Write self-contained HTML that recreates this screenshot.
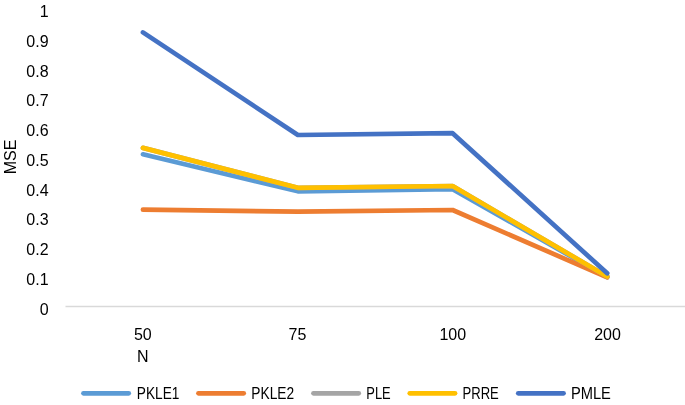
<!DOCTYPE html>
<html><head><meta charset="utf-8"><style>
html,body{margin:0;padding:0;background:#fff;}
svg{display:block;will-change:transform;}
text{font-family:"Liberation Sans", sans-serif;font-size:16px;fill:#000;}
</style></head><body>
<svg width="685" height="405" viewBox="0 0 685 405">
<line x1="65.5" y1="306.5" x2="685" y2="306.5" stroke="#D9D9D9" stroke-width="1.3"/>
<text x="48.6" y="314.80" text-anchor="end">0</text>
<text x="48.6" y="285.02" text-anchor="end">0.1</text>
<text x="48.6" y="255.24" text-anchor="end">0.2</text>
<text x="48.6" y="225.46" text-anchor="end">0.3</text>
<text x="48.6" y="195.68" text-anchor="end">0.4</text>
<text x="48.6" y="165.90" text-anchor="end">0.5</text>
<text x="48.6" y="136.12" text-anchor="end">0.6</text>
<text x="48.6" y="106.34" text-anchor="end">0.7</text>
<text x="48.6" y="76.56" text-anchor="end">0.8</text>
<text x="48.6" y="46.78" text-anchor="end">0.9</text>
<text x="48.6" y="17.00" text-anchor="end">1</text>
<text x="142.8" y="340.0" text-anchor="middle">50</text>
<text x="297.4" y="340.0" text-anchor="middle">75</text>
<text x="452.8" y="340.0" text-anchor="middle">100</text>
<text x="607.5" y="340.0" text-anchor="middle">200</text>
<text x="142.8" y="361.9" text-anchor="middle">N</text>
<text x="0" y="0" text-anchor="middle" transform="translate(15.6,157.0) rotate(-90)">MSE</text>
<polyline points="142.95,154.3 297.85,191.3 452.6,189.2 607.2,277.0" fill="none" stroke="#5B9BD5" stroke-width="4.7" stroke-linecap="round" stroke-linejoin="round"/>
<polyline points="142.95,209.6 297.85,211.7 452.6,210.0 607.2,277.3" fill="none" stroke="#ED7D31" stroke-width="4.7" stroke-linecap="round" stroke-linejoin="round"/>
<polyline points="142.95,147.9 297.85,187.8 452.6,186.0 607.2,276.5" fill="none" stroke="#A5A5A5" stroke-width="4.7" stroke-linecap="round" stroke-linejoin="round"/>
<polyline points="142.95,147.9 297.85,187.8 452.6,186.0 607.2,276.5" fill="none" stroke="#FFC000" stroke-width="4.7" stroke-linecap="round" stroke-linejoin="round"/>
<polyline points="142.95,32.4 297.85,135.0 452.6,133.2 607.2,273.3" fill="none" stroke="#4472C4" stroke-width="4.7" stroke-linecap="round" stroke-linejoin="round"/>
<line x1="83.45" y1="393.3" x2="128.75" y2="393.3" stroke="#5B9BD5" stroke-width="4.7" stroke-linecap="round"/>
<text x="136.8" y="399.4" textLength="42.6" lengthAdjust="spacingAndGlyphs">PKLE1</text>
<line x1="198.45" y1="393.3" x2="243.75" y2="393.3" stroke="#ED7D31" stroke-width="4.7" stroke-linecap="round"/>
<text x="251.3" y="399.4" textLength="42.8" lengthAdjust="spacingAndGlyphs">PKLE2</text>
<line x1="313.45" y1="393.3" x2="358.75" y2="393.3" stroke="#A5A5A5" stroke-width="4.7" stroke-linecap="round"/>
<text x="366.3" y="399.4" textLength="24.4" lengthAdjust="spacingAndGlyphs">PLE</text>
<line x1="409.75" y1="393.3" x2="455.05" y2="393.3" stroke="#FFC000" stroke-width="4.7" stroke-linecap="round"/>
<text x="462.5" y="399.4" textLength="36.3" lengthAdjust="spacingAndGlyphs">PRRE</text>
<line x1="518.25" y1="393.3" x2="563.55" y2="393.3" stroke="#4472C4" stroke-width="4.7" stroke-linecap="round"/>
<text x="570.9" y="399.4" textLength="40.0" lengthAdjust="spacingAndGlyphs">PMLE</text>
</svg>
</body></html>
